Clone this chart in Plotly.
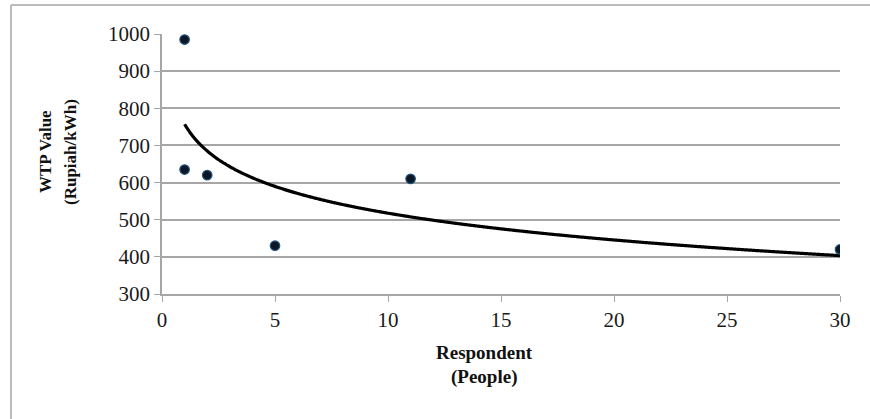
import numpy as np
import plotly.graph_objects as go

# Data
respondents = [1, 1, 2, 5, 11, 30]
wtp_values = [985, 635, 620, 430, 610, 420]
x_ticks = [0, 5, 10, 15, 20, 25, 30]
y_ticks = [300, 400, 500, 600, 700, 800, 900, 1000]

# Logarithmic trendline fitted to the data (as in the spreadsheet chart)
lx = np.log(np.array(respondents, dtype=float))
slope, intercept = np.polyfit(lx, np.array(wtp_values, dtype=float), 1)
trend_x = np.linspace(min(respondents), max(respondents), 400)
trend_y = slope * np.log(trend_x) + intercept

W, H = 870, 419
L, R, T, B = 162, 30, 34, 125
pw = W - L - R
ph = H - T - B


def px(xpix):
    return (xpix - L) / pw


def py(ypix):
    return (H - B - ypix) / ph


fig = go.Figure()
fig.add_trace(go.Scatter(
    x=trend_x, y=trend_y, mode="lines",
    line=dict(color="black", width=3.2, shape="spline"),
    hoverinfo="skip", showlegend=False,
))
fig.add_trace(go.Scatter(
    x=respondents, y=wtp_values, mode="markers",
    marker=dict(size=9.5, color="#0b1626", line=dict(color="#24557a", width=1.2)),
    showlegend=False,
))

font_family = "Liberation Serif"
grey = "#a6a6a6"

fig.update_layout(
    width=W, height=H,
    margin=dict(l=L, r=R, t=T, b=B),
    paper_bgcolor="white", plot_bgcolor="white",
    font=dict(family=font_family, size=20, color="#1a1a1a"),
    xaxis=dict(
        range=[0, 30], tickvals=x_ticks, ticktext=[str(v) for v in x_ticks],
        showgrid=False, zeroline=False,
        showline=True, linecolor=grey, linewidth=1.5,
        ticks="outside", ticklen=6, tickcolor=grey, tickwidth=1.2,
        tickfont=dict(family=font_family, size=21, color="#1a1a1a"),
        fixedrange=True,
    ),
    yaxis=dict(
        range=[300, 1000], tickvals=y_ticks, ticktext=[str(v) for v in y_ticks],
        showgrid=True, gridcolor=grey, gridwidth=1.5, zeroline=False,
        showline=True, linecolor=grey, linewidth=1.5,
        ticks="outside", ticklen=6, tickcolor=grey, tickwidth=1.2,
        tickfont=dict(family=font_family, size=21, color="#1a1a1a"),
        fixedrange=True,
    ),
    shapes=[
        dict(type="line", xref="paper", yref="paper",
             x0=px(11), x1=px(870), y0=py(5), y1=py(5),
             line=dict(color=grey, width=1.5), layer="below"),
        dict(type="line", xref="paper", yref="paper",
             x0=px(11), x1=px(11), y0=py(5), y1=py(419),
             line=dict(color=grey, width=1.5), layer="below"),
    ],
    annotations=[
        dict(text="<b>WTP Value</b>", xref="paper", yref="paper", x=px(45), y=py(152),
             textangle=-90, showarrow=False, xanchor="center", yanchor="middle",
             font=dict(family=font_family, size=17, color="#111111")),
        dict(text="<b>(Rupiah/kWh)</b>", xref="paper", yref="paper", x=px(70), y=py(152),
             textangle=-90, showarrow=False, xanchor="center", yanchor="middle",
             font=dict(family=font_family, size=17, color="#111111")),
        dict(text="<b>Respondent</b>", xref="paper", yref="paper", x=px(484), y=py(352),
             showarrow=False, xanchor="center", yanchor="middle",
             font=dict(family=font_family, size=19, color="#111111")),
        dict(text="<b>(People)</b>", xref="paper", yref="paper", x=px(484), y=py(377),
             showarrow=False, xanchor="center", yanchor="middle",
             font=dict(family=font_family, size=19, color="#111111")),
    ],
)

fig.write_html("out.html")
